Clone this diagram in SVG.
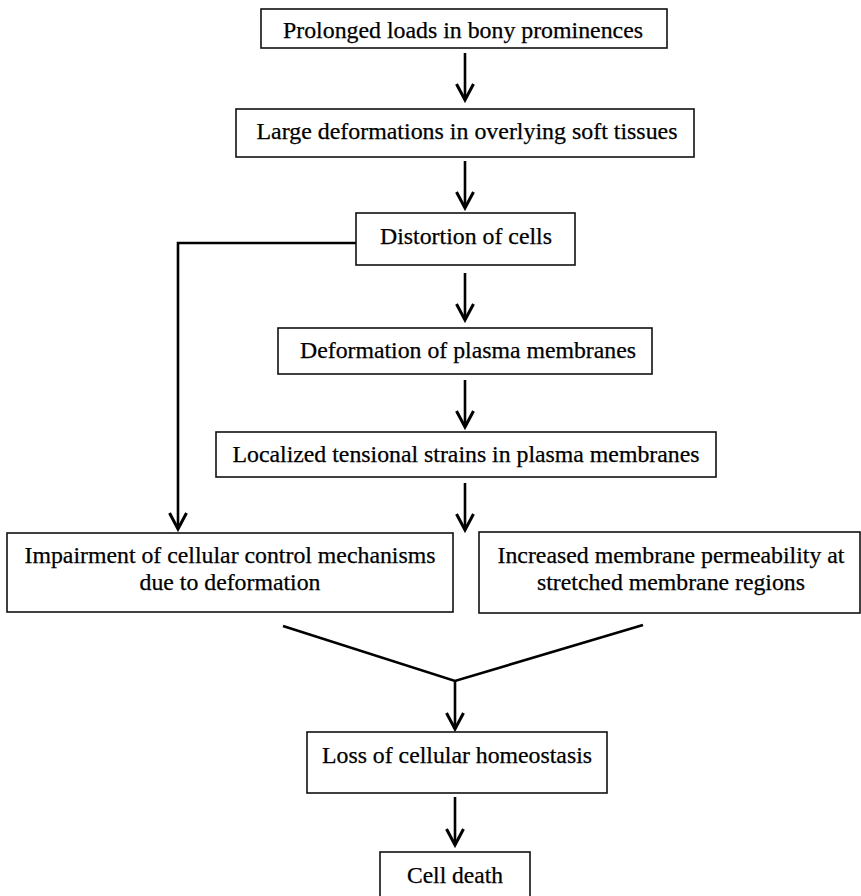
<svg xmlns="http://www.w3.org/2000/svg" width="861" height="896" viewBox="0 0 861 896">
  <style>
    .box { fill: #fff; stroke: #111; stroke-width: 1.6; }
    .lbl { font-family: "Liberation Serif", "Times New Roman", Times, serif; font-size: 23px; fill: #000; stroke: #000; stroke-width: 0.25; text-anchor: middle; }
    .wire { fill: none; stroke: #000; stroke-width: 2.6; }
  </style>
  <defs>
    <marker id="head" markerUnits="userSpaceOnUse" markerWidth="22" markerHeight="22" viewBox="-19 -11 21 22" refX="0" refY="0" orient="auto">
      <path d="M-16,-8.5 L0,0 L-16,8.5" fill="none" stroke="#000" stroke-width="3" stroke-linejoin="miter"/>
    </marker>
  </defs>
  <rect x="0" y="0" width="861" height="896" fill="#fff"/>

  <g id="connectors">
    <path class="wire" d="M465,53 V100" marker-end="url(#head)"/>
    <path class="wire" d="M465,161 V208" marker-end="url(#head)"/>
    <path class="wire" d="M465,273 V320" marker-end="url(#head)"/>
    <path class="wire" d="M465,380 V427" marker-end="url(#head)"/>
    <path class="wire" d="M465,483 V530" marker-end="url(#head)"/>
    <path class="wire" d="M356,243 H178 V529" marker-end="url(#head)"/>
    <path class="wire" d="M283,626 L455,681 L643,625"/>
    <path class="wire" d="M455,681 V729" marker-end="url(#head)"/>
    <path class="wire" d="M455,797 V845" marker-end="url(#head)"/>
  </g>

  <g id="prolonged-loads">
    <rect class="box" x="261" y="9" width="406" height="39"/>
    <text class="lbl" x="463" y="38" textLength="360" lengthAdjust="spacingAndGlyphs">Prolonged loads in bony prominences</text>
  </g>
  <g id="large-deformations">
    <rect class="box" x="236" y="109" width="458" height="48"/>
    <text class="lbl" x="467" y="139" textLength="421" lengthAdjust="spacingAndGlyphs">Large deformations in overlying soft tissues</text>
  </g>
  <g id="distortion">
    <rect class="box" x="356" y="213" width="219" height="52"/>
    <text class="lbl" x="466" y="244" textLength="172" lengthAdjust="spacingAndGlyphs">Distortion of cells</text>
  </g>
  <g id="membrane-deformation">
    <rect class="box" x="278" y="328" width="374" height="46"/>
    <text class="lbl" x="468" y="358" textLength="336" lengthAdjust="spacingAndGlyphs">Deformation of plasma membranes</text>
  </g>
  <g id="tensional-strains">
    <rect class="box" x="216" y="432" width="500" height="45"/>
    <text class="lbl" x="466" y="462" textLength="467" lengthAdjust="spacingAndGlyphs">Localized tensional strains in plasma membranes</text>
  </g>
  <g id="control-impairment">
    <rect class="box" x="7" y="533" width="446" height="79"/>
    <text class="lbl" x="230" y="563" textLength="411" lengthAdjust="spacingAndGlyphs">Impairment of cellular control mechanisms</text>
    <text class="lbl" x="230" y="590" textLength="181" lengthAdjust="spacingAndGlyphs">due to deformation</text>
  </g>
  <g id="permeability">
    <rect class="box" x="479" y="532" width="381" height="81"/>
    <text class="lbl" x="671" y="563" textLength="347" lengthAdjust="spacingAndGlyphs">Increased membrane permeability at</text>
    <text class="lbl" x="671" y="590" textLength="268" lengthAdjust="spacingAndGlyphs">stretched membrane regions</text>
  </g>
  <g id="homeostasis-loss">
    <rect class="box" x="307" y="732" width="300" height="61"/>
    <text class="lbl" x="457" y="763" textLength="270" lengthAdjust="spacingAndGlyphs">Loss of cellular homeostasis</text>
  </g>
  <g id="cell-death">
    <rect class="box" x="380" y="852" width="150" height="50"/>
    <text class="lbl" x="455" y="883" textLength="96" lengthAdjust="spacingAndGlyphs">Cell death</text>
  </g>
</svg>
